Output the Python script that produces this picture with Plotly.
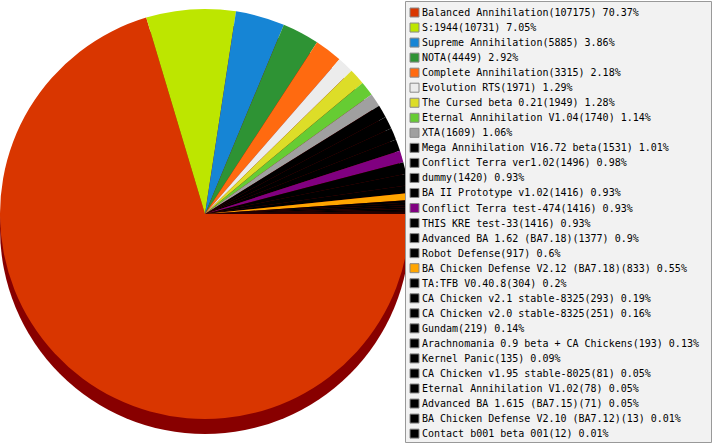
import plotly.graph_objects as go

W, H = 713, 445

names = [
    "Balanced Annihilation", "S:1944", "Supreme Annihilation", "NOTA",
    "Complete Annihilation", "Evolution RTS", "The Cursed beta 0.21",
    "Eternal Annihilation V1.04", "XTA", "Mega Annihilation V16.72 beta",
    "Conflict Terra ver1.02", "dummy", "BA II Prototype v1.02",
    "Conflict Terra test-474", "THIS KRE test-33", "Advanced BA 1.62 (BA7.18)",
    "Robot Defense", "BA Chicken Defense V2.12 (BA7.18)", "TA:TFB V0.40.8",
    "CA Chicken v2.1 stable-8325", "CA Chicken v2.0 stable-8325", "Gundam",
    "Arachnomania 0.9 beta + CA Chickens", "Kernel Panic",
    "CA Chicken v1.95 stable-8025", "Eternal Annihilation V1.02",
    "Advanced BA 1.615 (BA7.15)", "BA Chicken Defense V2.10 (BA7.12)",
    "Contact b001 beta 001",
]
counts = [
    107175, 10731, 5885, 4449, 3315, 1971, 1949, 1740, 1609, 1531,
    1496, 1420, 1416, 1416, 1416, 1377, 917, 833, 304, 293,
    251, 219, 193, 135, 81, 78, 71, 13, 12,
]
percents = [
    "70.37", "7.05", "3.86", "2.92", "2.18", "1.29", "1.28", "1.14", "1.06", "1.01",
    "0.98", "0.93", "0.93", "0.93", "0.93", "0.9", "0.6", "0.55", "0.2", "0.19",
    "0.16", "0.14", "0.13", "0.09", "0.05", "0.05", "0.05", "0.01", "0.01",
]
colors = [
    "#d93600", "#bde600", "#1685d5", "#2e9334", "#ff6a10", "#ececec",
    "#dddd28", "#66cc33", "#a0a0a0", "#000000", "#000000", "#000000",
    "#000000", "#800080", "#000000", "#000000", "#000000", "#ffa500",
    "#000000", "#000000", "#000000", "#000000", "#000000", "#000000",
    "#000000", "#000000", "#000000", "#000000", "#000000",
]

# pie geometry (pixels)
cx, cy, r = 205, 214, 205
depth = 15

def px_x(v):
    return v / W

def px_y(v):
    return 1 - v / H

fig = go.Figure()
fig.add_trace(go.Pie(
    labels=names, values=counts, sort=False, direction="clockwise",
    rotation=90, textinfo="none", showlegend=False,
    marker=dict(colors=colors, line=dict(width=0)),
    domain=dict(x=[px_x(cx - r), px_x(cx + r)], y=[px_y(cy + r), px_y(cy - r)]),
    hovertemplate="%{label}(%{value}) %{percent}<extra></extra>",
))

shapes = [
    # pie depth / shadow
    dict(type="circle", xref="paper", yref="paper", layer="below",
         x0=px_x(cx - r), x1=px_x(cx + r),
         y0=px_y(cy + r + depth), y1=px_y(cy - r + depth),
         fillcolor="#880000", line=dict(width=0)),
    # legend box
    dict(type="rect", xref="paper", yref="paper", layer="above",
         x0=px_x(405.5), x1=px_x(711.5), y0=px_y(442.5), y1=px_y(1.5),
         fillcolor="#f2f2f2", line=dict(color="#999999", width=1)),
]
annotations = []
row0, step = 12.5, 15.04
for i, (n, c, p, col) in enumerate(zip(names, counts, percents, colors)):
    yc = row0 + i * step
    shapes.append(dict(type="rect", xref="paper", yref="paper", layer="above",
                       x0=px_x(410), x1=px_x(419), y0=px_y(yc + 4.5), y1=px_y(yc - 4.5),
                       fillcolor=col, line=dict(color="#888888", width=1)))
    annotations.append(dict(xref="paper", yref="paper", x=px_x(420), y=px_y(yc),
                            xanchor="left", yanchor="middle", showarrow=False,
                            text=f"{n}({c}) {p}%",
                            font=dict(family="DejaVu Sans Mono", size=10, color="#000000")))

fig.update_layout(
    width=W, height=H, margin=dict(l=0, r=0, t=0, b=0),
    paper_bgcolor="white", plot_bgcolor="white",
    shapes=shapes, annotations=annotations, showlegend=False,
)
fig.write_html("out.html", config={"displayModeBar": False},
               post_script="document.body.style.margin='0';document.body.style.padding='0';")
